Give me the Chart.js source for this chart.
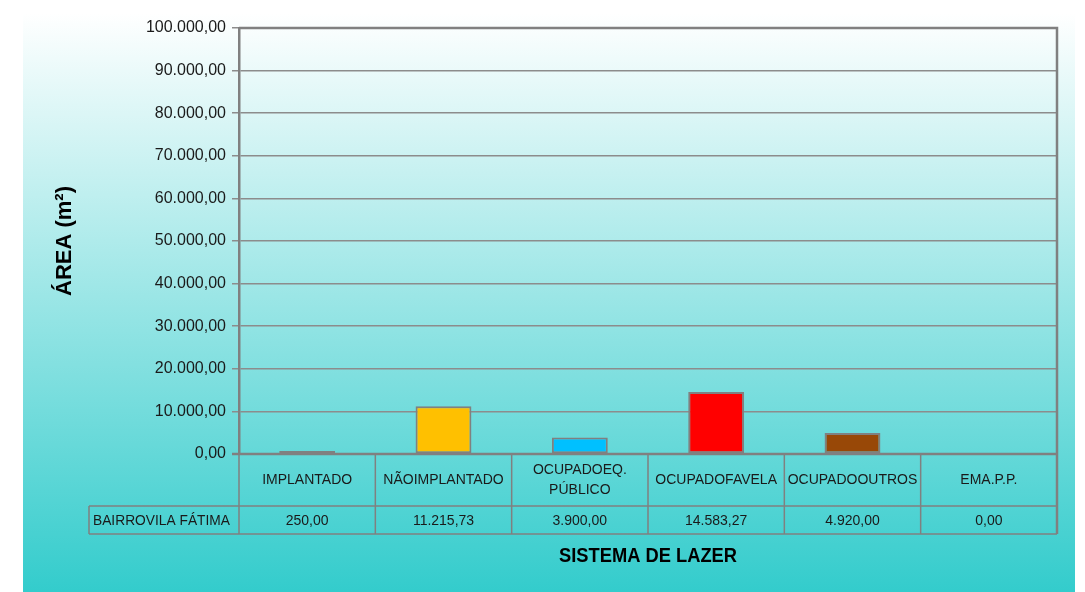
<!DOCTYPE html>
<html>
<head>
<meta charset="utf-8">
<script src="https://cdn.jsdelivr.net/npm/chart.js@4"></script>
<style>
  html, body { margin: 0; padding: 0; background: #ffffff; }
  #bg { position: absolute; left: 23px; top: 13px; width: 1052px; height: 579px;
        background: linear-gradient(to bottom, #ffffff 0%, #33cccc 100%); }
  #c { position: absolute; left: 0; top: 0; }
</style>
</head>
<body>
<div id="bg"></div>
<canvas id="c" width="1085" height="592"></canvas>
<script>
const categories = [
  ["IMPLANTADO"],
  ["NÃOIMPLANTADO"],
  ["OCUPADOEQ.", "PÚBLICO"],
  ["OCUPADOFAVELA"],
  ["OCUPADOOUTROS"],
  ["EMA.P.P."]
];
const seriesName = "BAIRROVILA FÁTIMA";
const values = [250.00, 11215.73, 3900.00, 14583.27, 4920.00, 0.00];
const valueLabels = ["250,00", "11.215,73", "3.900,00", "14.583,27", "4.920,00", "0,00"];
const barColors = ["#7A7A7A", "#FFC000", "#00C0FF", "#FF0000", "#984807", "#7F7F7F"];
const yTickValues = [0, 10000, 20000, 30000, 40000, 50000, 60000, 70000, 80000, 90000, 100000];
const yTickLabels = ["0,00", "10.000,00", "20.000,00", "30.000,00", "40.000,00", "50.000,00",
                     "60.000,00", "70.000,00", "80.000,00", "90.000,00", "100.000,00"];
const yTitle = "ÁREA (m²)";
const xTitle = "SISTEMA DE LAZER";

const FONT = "'Liberation Sans', Arial, sans-serif";
const LINE = "#808080";

const tablePlugin = {
  id: "tablePlugin",
  beforeDatasetsDraw(chart) {
    const { ctx, chartArea: a } = chart;
    ctx.save();
    ctx.strokeStyle = LINE;
    ctx.lineWidth = 2.5;
    ctx.beginPath();
    ctx.moveTo(a.left, a.top);
    ctx.lineTo(a.right, a.top);
    ctx.lineTo(a.right, a.bottom);
    ctx.moveTo(a.left - 7, a.bottom); ctx.lineTo(a.right, a.bottom);
    ctx.stroke();
    ctx.restore();
  },
  afterDraw(chart) {
    const { ctx, chartArea: a } = chart;
    const x = chart.scales.x;
    const n = categories.length;
    const colW = (a.right - a.left) / n;
    const row1 = a.bottom + 52;
    const row2 = a.bottom + 80;
    const labelLeft = 89;
    ctx.save();
    ctx.strokeStyle = LINE;
    ctx.lineWidth = 1.5;
    ctx.beginPath();
    ctx.moveTo(labelLeft, row1); ctx.lineTo(a.right, row1);
    ctx.moveTo(labelLeft, row2); ctx.lineTo(a.right, row2);
    ctx.moveTo(labelLeft, row1); ctx.lineTo(labelLeft, row2);
    for (let i = 0; i <= n; i++) {
      const px = x.getPixelForValue(i) - colW / 2;
      ctx.moveTo(px, a.bottom + 1); ctx.lineTo(px, row2);
    }
    ctx.stroke();
    ctx.lineWidth = 2.5;
    ctx.beginPath();
    ctx.moveTo(a.right, a.bottom); ctx.lineTo(a.right, row2);
    ctx.stroke();

    ctx.fillStyle = "#1a1a1a";
    ctx.font = "14px " + FONT;
    ctx.textAlign = "center";
    ctx.textBaseline = "middle";
    for (let i = 0; i < n; i++) {
      const cx = x.getPixelForValue(i);
      const lines = categories[i];
      const midY = (a.bottom + row1) / 2;
      const lh = 20;
      lines.forEach((t, j) => {
        const ty = midY + (j - (lines.length - 1) / 2) * lh;
        ctx.fillText(t, cx, ty, colW - 4);
      });
      ctx.fillText(valueLabels[i], cx, (row1 + row2) / 2 + 1);
    }
    ctx.textAlign = "left";
    ctx.fillText(seriesName, labelLeft + 4, (row1 + row2) / 2 + 1, 137);

    ctx.fillStyle = "#000000";
    ctx.font = "bold 20px " + FONT;
    ctx.textAlign = "center";
    ctx.fillText(xTitle, (a.left + a.right) / 2, 556, 178);
    ctx.translate(65, (a.top + a.bottom) / 2);
    ctx.rotate(-Math.PI / 2);
    ctx.font = "bold 22px " + FONT;
    ctx.fillText(yTitle, 0, 0, 116);
    ctx.restore();
  }
};

new Chart(document.getElementById("c"), {
  type: "bar",
  data: {
    labels: categories,
    datasets: [{
      label: seriesName,
      data: values,
      backgroundColor: (c) => (c.raw === 0 ? "rgba(0,0,0,0)" : barColors[c.dataIndex]),
      borderColor: LINE,
      borderWidth: (c) => (c.raw === 0 ? 0 : 2),
      borderSkipped: false,
      minBarLength: 3,
      categoryPercentage: 1.0,
      barPercentage: 0.41
    }]
  },
  options: {
    responsive: false,
    animation: false,
    layout: { padding: { left: 0, top: 28, right: 28, bottom: 138 } },
    plugins: { legend: { display: false }, tooltip: { enabled: false } },
    scales: {
      x: { display: false },
      y: {
        min: 0, max: 100000,
        afterBuildTicks(scale) { scale.ticks = yTickValues.map(v => ({ value: v })); },
        afterFit(scale) { scale.width = 239; },
        ticks: {
          padding: 6,
          color: "#1a1a1a",
          font: { family: FONT, size: 16 },
          callback: (v) => yTickLabels[yTickValues.indexOf(v)]
        },
        grid: { color: "#8c8c8c", lineWidth: 1.5, tickLength: 7, drawTicks: true },
        border: { display: true, color: LINE, width: 2.5 }
      }
    }
  },
  plugins: [tablePlugin]
});
</script>
</body>
</html>
